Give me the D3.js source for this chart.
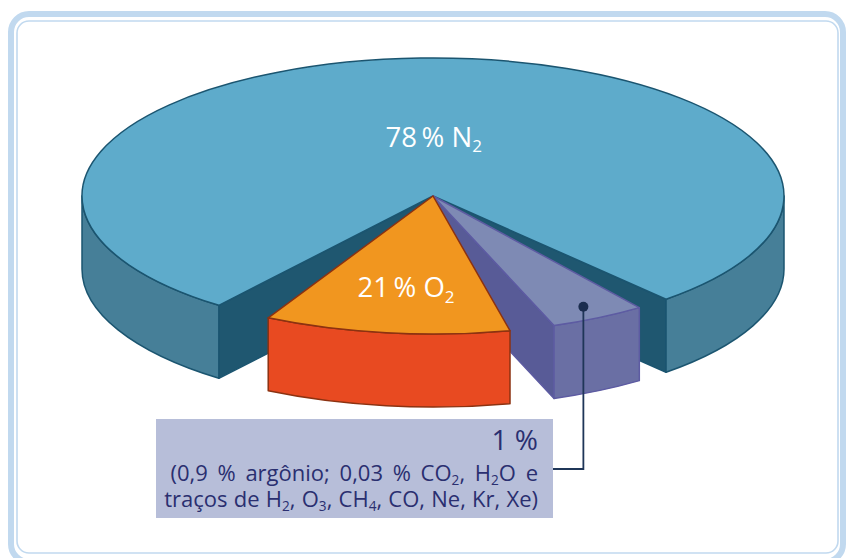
<!DOCTYPE html>
<html>
<head>
<meta charset="utf-8">
<script src="https://cdn.jsdelivr.net/npm/d3@7"></script>
<style>
  html, body { margin: 0; padding: 0; background: #ffffff; }
  svg { display: block; }
  text { font-family: "Open Sans", "Noto Sans", sans-serif; }
</style>
</head>
<body>
<svg id="chart" width="846" height="558"></svg>
<script>
// Composition of dry air (percent by volume)
const gases = ["N_2", "outros", "O_2"];
const shares = [78, 1, 21];
const sliceLabels = ["78 % N_2", "", "21 % O_2"];
const noteLines = [
  "1 %",
  "(0,9 % argônio; 0,03 % CO_2, H_2O e",
  "traços de H_2, O_3, CH_4, CO, Ne, Kr, Xe)"
];

// Colours per slice: top face, outer wall, cut face, outline
const palette = {
  "N_2":    { top: "#5eabcb", wall: "#467f98", cut: "#1f5770", line: "#1b5570" },
  "outros": { top: "#7e8ab4", wall: "#6a6fa4", cut: "#585b97", line: "#5d5ba2" },
  "O_2":    { top: "#f1961f", wall: "#e84a21", cut: "#c23a16", line: "#8c3211" }
};

const svg = d3.select("#chart");
const deg = Math.PI / 180;

// Frame
svg.append("rect").attr("x", 11).attr("y", 14).attr("width", 832).attr("height", 548)
  .attr("rx", 18).attr("fill", "none").attr("stroke", "#c1d9ef").attr("stroke-width", 6);
svg.append("rect").attr("x", 17).attr("y", 21).attr("width", 821).attr("height", 532)
  .attr("rx", 12).attr("fill", "#ffffff").attr("stroke", "#c1d9ef").attr("stroke-width", 1.6);

// Pie geometry: an ellipse seen in perspective with a wall of given depth
const cx = 433, cy = 196, rx = 351, ry = 138, depth = 73;
const pt = (phi, z = 0, r = 1) => [cx + rx * r * Math.cos(phi), cy + ry * r * Math.sin(phi) + z];
const f = p => p[0].toFixed(2) + "," + p[1].toFixed(2);

// d3.pie angles are measured from 12 o'clock; convert to screen angle from 3 o'clock
const toPhi = a => a - Math.PI / 2;

const mainPie = d3.pie().sort(null).value(d => d)
  .startAngle(217.6 * deg).endAngle(217.6 * deg + 2 * Math.PI);
const mainArcs = mainPie(shares);

// The large slice stays in place; the two smaller ones are pulled apart inside
// the remaining gap, with the trace slice widened so it stays readable.
const gapStart = mainArcs[0].endAngle, gapEnd = mainArcs[0].startAngle + 2 * Math.PI;
const sweep = d3.scalePow().exponent(0.31).domain([0, 1]).range([0, 1]);
const subPie = d3.pie().sort(null).value(d => sweep(d))
  .startAngle(gapStart + 1.85 * deg).endAngle(gapEnd - 5.85 * deg).padAngle(7.5 * deg);
const subArcs = subPie([shares[1], shares[2]]);

const slices = [
  { key: gases[0], label: sliceLabels[0], a0: toPhi(mainArcs[0].startAngle), a1: toPhi(mainArcs[0].endAngle) },
  { key: gases[1], label: sliceLabels[1], a0: toPhi(subArcs[0].startAngle + subArcs[0].padAngle / 2), a1: toPhi(subArcs[0].endAngle - subArcs[0].padAngle / 2) },
  { key: gases[2], label: sliceLabels[2], a0: toPhi(subArcs[1].startAngle + subArcs[1].padAngle / 2), a1: toPhi(subArcs[1].endAngle - subArcs[1].padAngle / 2) }
];

function topPath(s) {
  const large = (s.a1 - s.a0) > Math.PI ? 1 : 0;
  return `M${f([cx, cy])}L${f(pt(s.a0))}A${rx},${ry} 0 ${large} 1 ${f(pt(s.a1))}Z`;
}
function wallPaths(s) {
  const out = [];
  for (let k = -1; k <= 2; k++) {
    const b0 = Math.max(s.a0, 2 * Math.PI * k), b1 = Math.min(s.a1, 2 * Math.PI * k + Math.PI);
    if (b1 > b0 + 1e-6) {
      out.push(`M${f(pt(b0))}A${rx},${ry} 0 0 1 ${f(pt(b1))}L${f(pt(b1, depth))}A${rx},${ry} 0 0 0 ${f(pt(b0, depth))}Z`);
    }
  }
  return out;
}
function cutPath(phi) {
  return `M${f([cx, cy])}L${f(pt(phi))}L${f(pt(phi, depth))}L${f([cx, cy + depth])}Z`;
}

const pieG = svg.append("g");
slices.forEach(s => {
  const c = palette[s.key];
  const g = pieG.append("g").attr("class", "slice");
  const cuts = [];
  if (Math.cos(s.a0) < 0) cuts.push(s.a0);
  if (Math.cos(s.a1) > 0) cuts.push(s.a1);
  cuts.forEach(phi => g.append("path").attr("d", cutPath(phi))
    .attr("fill", c.cut).attr("stroke", c.line).attr("stroke-width", 1.5).attr("stroke-linejoin", "round"));
  wallPaths(s).forEach(d => g.append("path").attr("d", d)
    .attr("fill", c.wall).attr("stroke", c.line).attr("stroke-width", 1.5).attr("stroke-linejoin", "round"));
  g.append("path").attr("d", topPath(s))
    .attr("fill", c.top).attr("stroke", c.line).attr("stroke-width", 1.5).attr("stroke-linejoin", "round");
});

// Text with "_n" chemical subscripts
function richText(sel, str, size) {
  sel.attr("font-size", size);
  const parts = str.split(/(_\d)/).filter(p => p.length);
  let shift = 0;
  parts.forEach(p => {
    if (p[0] === "_") {
      const drop = size * 0.2;
      sel.append("tspan").attr("font-size", size * 0.62).attr("dy", drop - shift).text(p.slice(1));
      shift = drop;
    } else {
      const ts = sel.append("tspan").text(p);
      if (shift) { ts.attr("dy", -shift); shift = 0; }
    }
  });
}

// Slice labels
const labelPos = {
  "N_2": { r: 0.43, dx: 6, dy: 10 },
  "O_2": { r: 0.66, dx: 4, dy: 11 }
};
slices.filter(s => s.label).forEach(s => {
  const lp = labelPos[s.key];
  const mid = (s.a0 + s.a1) / 2;
  const p = pt(mid, 0, lp.r);
  const t = svg.append("text").attr("x", p[0] + lp.dx).attr("y", p[1] + lp.dy)
    .attr("text-anchor", "middle").attr("fill", "#ffffff");
  richText(t, s.label.replace(" %", "\u2009%"), 27.5);
});

// Note box for the trace gases
const box = { x: 156, y: 419, w: 397, h: 99 };
svg.append("rect").attr("x", box.x).attr("y", box.y).attr("width", box.w).attr("height", box.h)
  .attr("fill", "#b7bed9");

// Leader from the small slice to the box
const trace = slices[1];
const dot = pt((trace.a0 + trace.a1) / 2, 0, 0.91);
svg.append("path")
  .attr("d", `M${f(dot)}V469H${box.x + box.w}`)
  .attr("fill", "none").attr("stroke", "#1f3658").attr("stroke-width", 1.8);
svg.append("circle").attr("cx", dot[0]).attr("cy", dot[1]).attr("r", 5).attr("fill", "#1b2d4f");

const noteSizes = [28, 22, 22];
const noteWordGap = [0, 4, 0.5];
const noteBase = [450, 481, 507];
noteLines.forEach((line, i) => {
  const t = svg.append("text").attr("x", box.x + box.w - 15).attr("y", noteBase[i])
    .attr("text-anchor", "end").attr("fill", "#2a2f70").attr("word-spacing", noteWordGap[i]);
  richText(t, line, noteSizes[i]);
});
</script>
</body>
</html>
